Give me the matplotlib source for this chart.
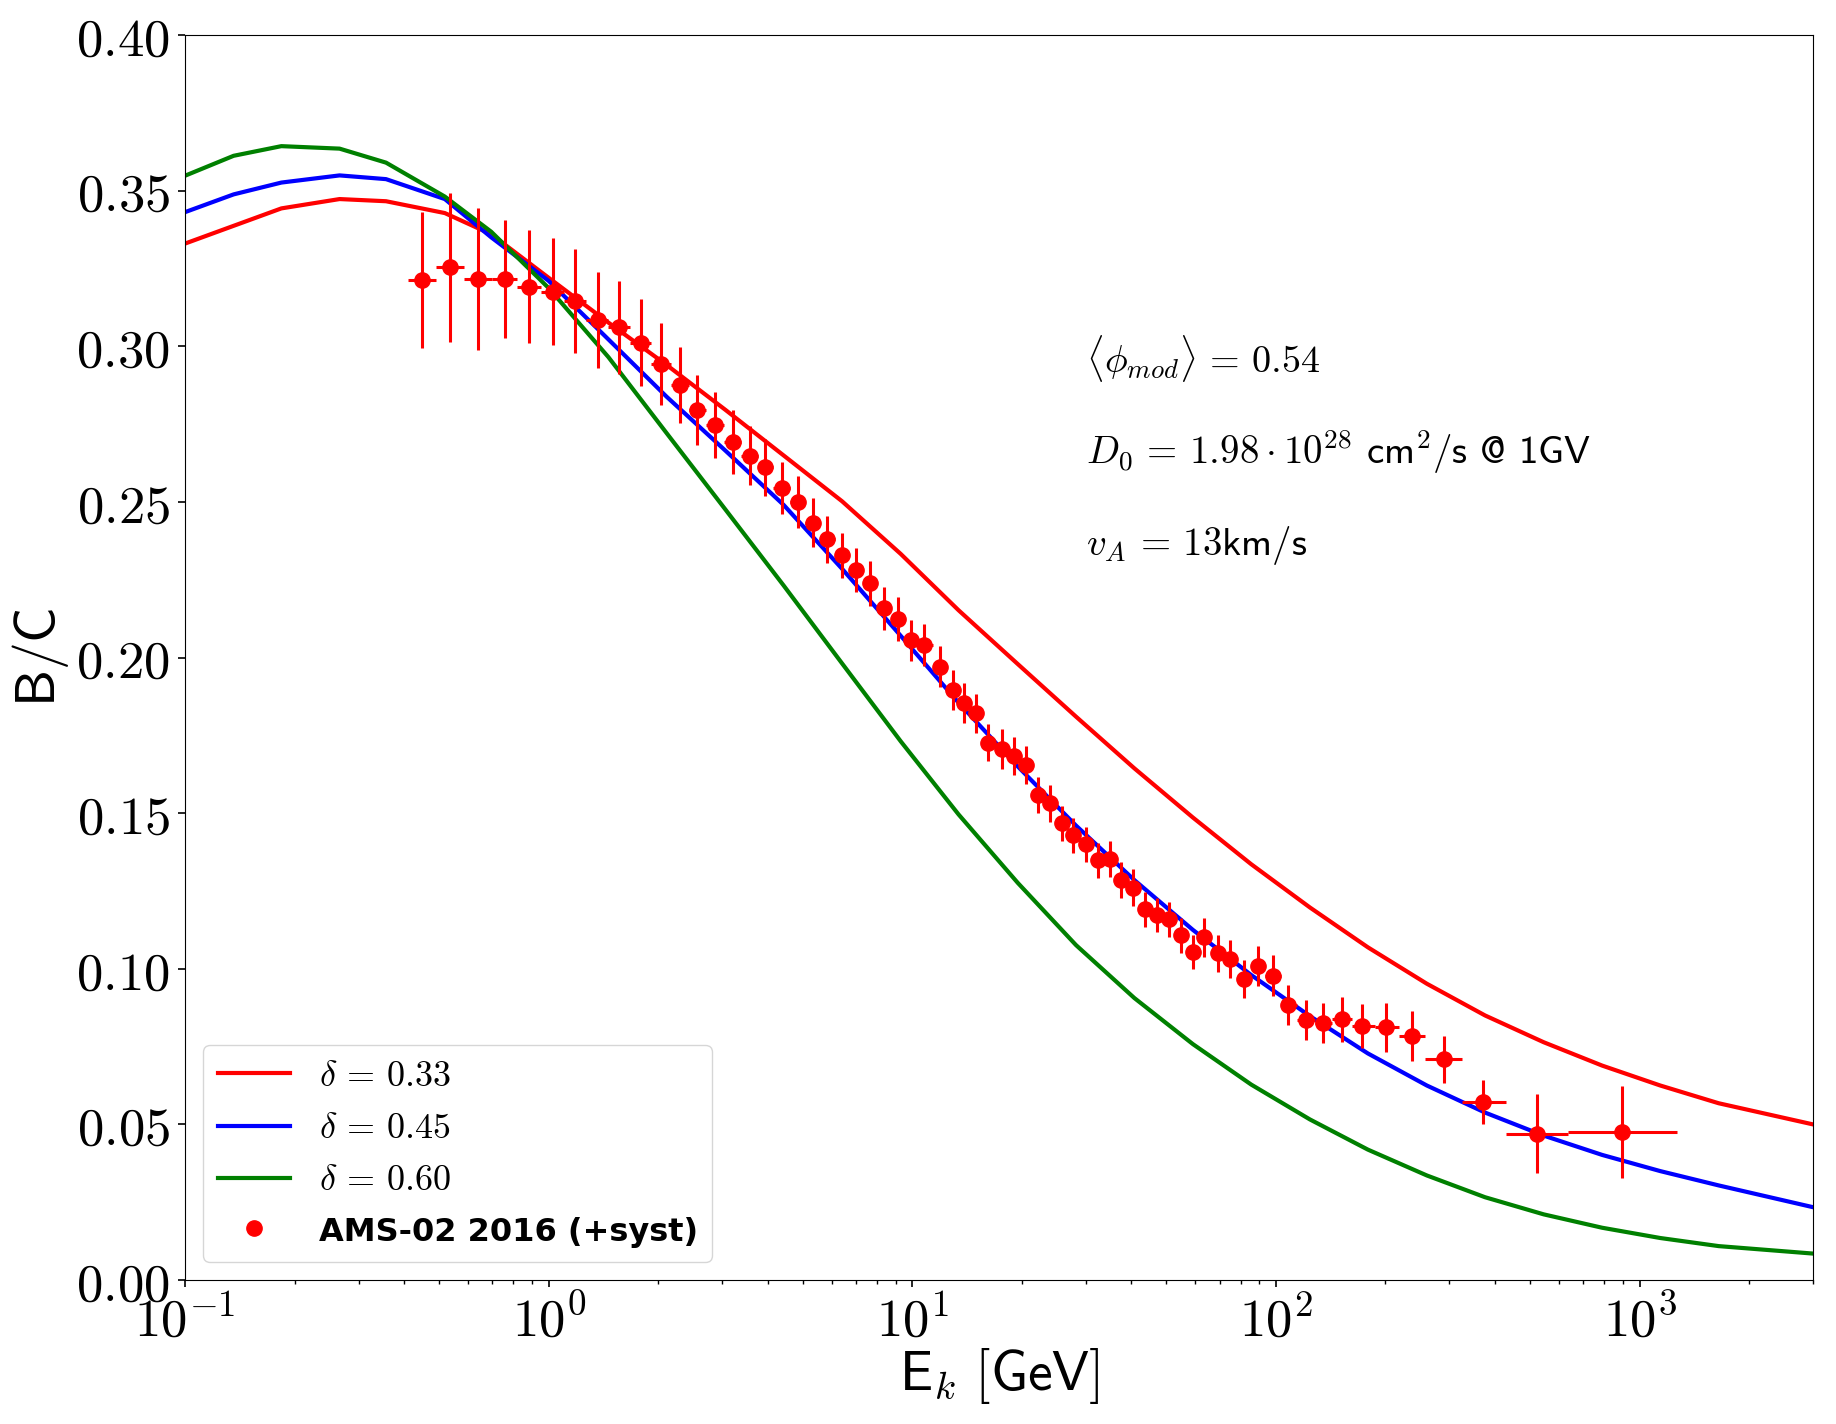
import numpy as np
import matplotlib.pyplot as plt
from matplotlib.ticker import FuncFormatter, LogLocator, MultipleLocator

plt.rcParams['mathtext.fontset'] = 'cm'

# Modele : energie cinetique par nucleon (GeV/n) et rapport B/C pour chaque delta
ek_model = [0.1, 0.136, 0.184, 0.266, 0.357, 0.518, 0.695, 1.0, 1.46, 2.11, 3.06,
            4.43, 6.41, 9.29, 13.4, 19.5, 28.2, 40.8, 59.1, 85.5, 124, 179, 260,
            376, 545, 789, 1140, 1650, 3000]
bc_delta033 = [0.3330, 0.3387, 0.3443, 0.3473, 0.3466, 0.3428, 0.3360, 0.3220, 0.3076,
               0.2940, 0.2796, 0.2649, 0.2502, 0.2333, 0.2152, 0.1979, 0.1810, 0.1644,
               0.1486, 0.1336, 0.1197, 0.1069, 0.0952, 0.0850, 0.0764, 0.0689, 0.0625,
               0.0568, 0.0500]
bc_delta045 = [0.3431, 0.3488, 0.3526, 0.3549, 0.3537, 0.3473, 0.3350, 0.3210, 0.3022,
               0.2838, 0.2665, 0.2490, 0.2285, 0.2070, 0.1855, 0.1650, 0.1460, 0.1285,
               0.1125, 0.0980, 0.0848, 0.0728, 0.0625, 0.0538, 0.0464, 0.0402, 0.0350,
               0.0304, 0.0234]
bc_delta060 = [0.3548, 0.3612, 0.3643, 0.3635, 0.3590, 0.3481, 0.3368, 0.3187, 0.2965,
               0.2721, 0.2476, 0.2231, 0.1981, 0.1731, 0.1496, 0.1276, 0.1076, 0.0906,
               0.0758, 0.0628, 0.0516, 0.0419, 0.0336, 0.0266, 0.0211, 0.0168, 0.0135,
               0.0109, 0.0085]

# Donnees AMS-02 2016 (B/C)
ams_ek = [0.449, 0.536, 0.640, 0.759, 0.885, 1.03, 1.18, 1.37, 1.56, 1.79, 2.04, 2.30,
          2.56, 2.86, 3.21, 3.58, 3.94, 4.37, 4.84, 5.33, 5.83, 6.41, 7.01, 7.66, 8.38,
          9.14, 9.93, 10.8, 11.9, 12.9, 13.9, 15.0, 16.2, 17.7, 19.0, 20.5, 22.2, 23.9,
          25.8, 27.7, 30.1, 32.4, 34.9, 37.6, 40.5, 43.6, 47.2, 50.8, 54.7, 59.0, 63.5,
          69.3, 74.6, 81.7, 89.1, 98.2, 108, 121, 135, 152, 173, 201, 237, 289, 372,
          522, 895]
ams_ek_edges = [0.410, 0.490, 0.585, 0.697, 0.818, 0.955, 1.10, 1.27, 1.46, 1.67, 1.91,
                2.17, 2.43, 2.71, 3.03, 3.39, 3.76, 4.15, 4.60, 5.08, 5.58, 6.12, 6.71,
                7.33, 8.02, 8.75, 9.53, 10.4, 11.4, 12.4, 13.4, 14.5, 15.6, 16.9, 18.3,
                19.7, 21.3, 23.1, 24.8, 26.7, 28.9, 31.2, 33.7, 36.2, 39.0, 42.0, 45.4,
                49.0, 52.7, 56.9, 61.2, 66.4, 71.9, 78.2, 85.3, 93.5, 103, 114, 128, 143,
                162, 187, 218, 257, 325, 430, 634, 1270]
ams_bc = [0.3213, 0.3254, 0.3215, 0.3215, 0.3191, 0.3175, 0.3146, 0.3084, 0.3061, 0.3012,
          0.2943, 0.2876, 0.2795, 0.2747, 0.2693, 0.2648, 0.2611, 0.2544, 0.2499, 0.2433,
          0.2380, 0.2329, 0.2281, 0.2238, 0.2158, 0.2123, 0.2056, 0.2040, 0.1971, 0.1896,
          0.1855, 0.1821, 0.1726, 0.1706, 0.1684, 0.1655, 0.1558, 0.1532, 0.1467, 0.1429,
          0.1400, 0.1349, 0.1353, 0.1285, 0.1260, 0.1191, 0.1173, 0.1159, 0.1108, 0.1055,
          0.1101, 0.1050, 0.1031, 0.0967, 0.1009, 0.0978, 0.0884, 0.0835, 0.0825, 0.0838,
          0.0816, 0.0812, 0.0785, 0.0709, 0.0572, 0.0470, 0.0476]
ams_err = [0.0218, 0.0239, 0.0228, 0.0190, 0.0182, 0.0172, 0.0166, 0.0155, 0.0149, 0.0139,
           0.0131, 0.0122, 0.0113, 0.0107, 0.0102, 0.0095, 0.0091, 0.0084, 0.0084, 0.0079,
           0.0075, 0.0072, 0.0072, 0.0071, 0.0070, 0.0070, 0.0066, 0.0067, 0.0065, 0.0064,
           0.0064, 0.0063, 0.0060, 0.0063, 0.0060, 0.0060, 0.0059, 0.0059, 0.0057, 0.0056,
           0.0057, 0.0056, 0.0058, 0.0057, 0.0059, 0.0056, 0.0056, 0.0056, 0.0056, 0.0055,
           0.0062, 0.0059, 0.0060, 0.0060, 0.0064, 0.0066, 0.0064, 0.0064, 0.0065, 0.0072,
           0.0070, 0.0078, 0.0080, 0.0075, 0.0072, 0.0127, 0.0149]

delta_labels = [r'$\delta\,=\,0.33$', r'$\delta\,=\,0.45$', r'$\delta\,=\,0.60$']


fig = plt.figure(figsize=(18.36, 14.24), dpi=100)
ax = fig.add_axes([0.1008, 0.1011, 0.8867, 0.8743])

ax.plot(ek_model, bc_delta033, color='red', lw=3, label=delta_labels[0])
ax.plot(ek_model, bc_delta045, color='blue', lw=3, label=delta_labels[1])
ax.plot(ek_model, bc_delta060, color='green', lw=3, label=delta_labels[2])

ek = np.array(ams_ek)
edges = np.array(ams_ek_edges)
xerr = [ek - edges[:-1], edges[1:] - ek]
ax.errorbar(ek, ams_bc, yerr=ams_err, xerr=xerr, fmt='o', color='red',
            ms=11, elinewidth=2.2, capsize=0)
ax.plot([], [], 'o', color='red', ms=11, label='AMS-02 2016 (+syst)')

ax.set_xscale('log')
ax.set_xlim(0.1, 3000)
ax.set_ylim(0.0, 0.40)
ax.yaxis.set_major_locator(MultipleLocator(0.05))
ax.xaxis.set_major_locator(LogLocator(base=10, numticks=10))
ax.xaxis.set_major_formatter(FuncFormatter(lambda v, p: r'$10^{%d}$' % round(np.log10(v))))
ax.yaxis.set_major_formatter(FuncFormatter(lambda v, p: r'$%.2f$' % v))
ax.tick_params(which='major', labelsize=38, length=5, width=1.2, pad=6)
ax.tick_params(which='minor', length=3, width=1)

ax.set_xlabel(r'$\mathsf{E}_k\ \mathsf{[GeV]}$', fontsize=40, labelpad=-1)
ax.set_ylabel(r'$\mathsf{B/C}$', fontsize=40, labelpad=4)

ax.text(30, 0.296, r'$\langle\phi_{mod}\rangle\,=\,0.54$', fontsize=27.5, va='center')
ax.text(30, 0.266, r'$D_0\,=\,1.98 \cdot 10^{28}$ cm$^2$/s @ 1GV', fontsize=28,
        family='cmss10', va='center')
ax.text(30, 0.236, r'$v_A\,=\,13$km/s', fontsize=28, family='cmss10', va='center')

leg = ax.legend(loc='lower left', fontsize=26)
leg.get_texts()[3].set_fontfamily('DejaVu Sans')
leg.get_texts()[3].set_fontweight('bold')
leg.get_texts()[3].set_fontsize(23)

fig.savefig('out.png', dpi=100)
